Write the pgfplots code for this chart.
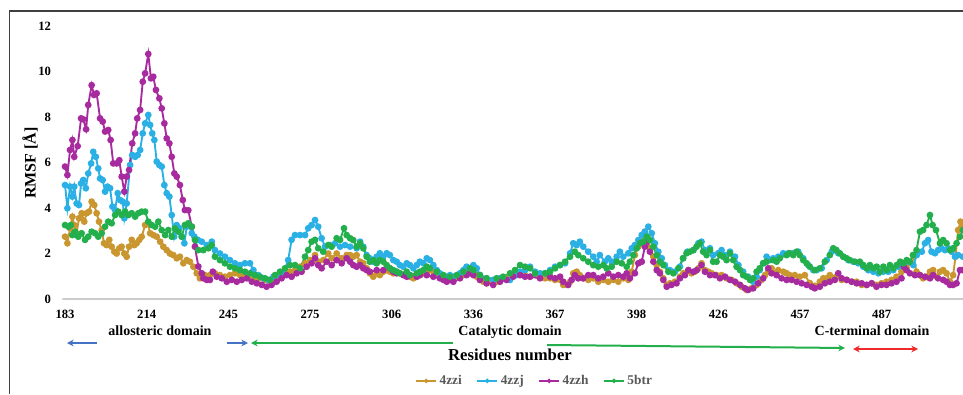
\documentclass[border=0pt]{standalone}
\usepackage{fontspec}
\setmainfont{Liberation Serif}
\usepackage{pgfplots}
\pgfplotsset{compat=1.18}
\usetikzlibrary{arrows.meta}
\definecolor{cGold}{HTML}{C9962F}
\definecolor{cCyan}{HTML}{2BB0E6}
\definecolor{cMag}{HTML}{A82A9F}
\definecolor{cGreen}{HTML}{23B04C}
\definecolor{cBlue}{HTML}{4472C4}
\definecolor{cRed}{HTML}{EE2A2A}
\definecolor{cLeg}{HTML}{595959}
\begin{document}
\begin{tikzpicture}
\useasboundingbox (-46.8pt,-71.25pt) rectangle (675.45pt,224.25pt);
\fill[white] (-46.8pt,-71.25pt) rectangle (675.45pt,224.25pt);
\begin{axis}[
  at={(0pt,0pt)}, anchor=south west,
  scale only axis, width=675.75pt, height=204.75pt,
  xmin=-1, xmax=341, ymin=0, ymax=12,
  axis line style={draw=none},
  major tick length=0pt,
  xtick={0,31,62,93,124,155,186,217,248,279,310},
  xticklabels={183,214,245,275,306,336,367,398,426,457,487},
  ytick={0,2,...,12},
  tick label style={font=\fontsize{9.5}{11}\selectfont\bfseries},
  yticklabel style={xshift=-5pt},
  xticklabel style={yshift=-4.5pt},
  /pgf/number format/assume math mode=true,
  legend columns=4,
  legend style={draw=none, fill=none, at={(axis description cs:0.5245,-0.300)}, anchor=center,
    font=\fontsize{10}{12}\selectfont\bfseries, text=cLeg,
    /tikz/every even column/.append style={column sep=9pt}},
  legend image code/.code={\draw[#1, line width=1.2pt, mark size=1pt, mark repeat=2, mark phase=2] plot coordinates {(0pt,0pt) (7.5pt,0pt) (15pt,0pt)};},
  every axis plot/.append style={line width=1.4pt, mark=*, mark size=1.8pt},
]
\draw[black!20, line width=0.8pt] (axis cs:-1,0) -- (axis cs:341,0);
\addplot[cGold, mark options={cGold}] coordinates {
(0,2.74)(0.9,2.45)(1.9,3.11)(2.8,3.62)(3.5,3.25)(4.4,2.89)(5.3,3.55)(6.3,3.77)(7.3,3.4)(8.2,3.77)(9.1,3.84)(10.1,4.28)(11.1,4.13)(12,3.77)(12.9,3.4)(13.9,3.03)(14.8,2.45)(15.8,2.37)(16.8,2.6)(17.7,2.3)(18.7,2.08)(19.6,2.0)(20.6,2.23)(21.5,2.3)(22.5,2.0)(23.4,1.86)(24.3,2.3)(25.3,2.6)(26.3,2.37)(27.2,2.45)(28.2,2.6)(29.1,2.74)(30.4,3.25)(31.4,3.33)(32.3,2.89)(33.5,2.81)(34.8,2.74)(36.1,2.52)(37.3,2.3)(38.6,2.15)(39.8,2.0)(41.1,1.93)(42.4,1.79)(43.6,1.86)(44.9,1.57)(46.2,1.71)(47.4,1.64)(48.7,1.42)(50,1.13)(51.2,0.91)(53.1,1.05)(55,1.05)(56.9,1.13)(58.8,1.05)(60.7,0.98)(62.6,1.05)(64.5,1.13)(66.4,1.05)(68.3,0.98)(70.2,0.91)(72.1,0.84)(74,0.91)(75.9,0.84)(77.8,0.76)(79.7,0.91)(81.6,1.05)(83.5,1.13)(85.4,1.2)(87.3,1.27)(89.2,1.42)(91.1,1.57)(93,1.71)(94.9,1.93)(96.1,1.64)(98,1.71)(99.9,2.0)(101.2,1.79)(103.1,2.0)(105,1.79)(106.9,1.93)(108.2,1.93)(109.4,1.86)(110.7,1.93)(112,1.64)(113.2,1.57)(114.5,1.35)(115.7,1.13)(117,0.98)(118.3,1.13)(119.5,1.05)(120.8,1.2)(122.1,1.27)(123.3,1.2)(124.6,1.13)(125.9,1.2)(127.1,1.13)(129.7,1.05)(130.9,0.98)(132.2,0.91)(133.5,0.98)(134.7,1.05)(136,1.13)(137.3,1.2)(138.5,1.27)(139.8,1.2)(141.1,1.13)(142.3,1.05)(144.9,0.91)(147.4,0.91)(148.7,0.98)(151.2,1.05)(152.4,1.13)(153.7,1.2)(155,1.13)(156.3,0.98)(157.5,0.84)(158.8,0.76)(160,0.69)(161.3,0.76)(162.5,0.69)(163.8,0.76)(165.1,0.84)(167.6,0.91)(170.1,1.05)(172.7,1.13)(174.6,1.05)(176.5,0.98)(180.3,0.98)(182.2,0.91)(184.1,0.91)(186,0.84)(187.9,0.84)(189.1,0.62)(190.4,0.62)(191.7,0.76)(192.9,1.13)(194.2,1.2)(195.4,1.05)(196.7,0.91)(198.6,0.84)(200.5,0.91)(202.4,0.76)(204.3,0.84)(206.2,0.76)(208.1,0.84)(210,0.76)(211.9,0.91)(213.8,0.84)(215.1,1.2)(216.3,1.93)(217.6,2.3)(218.9,2.52)(220.1,2.96)(221,2.74)(222,2.23)(223.3,1.86)(224.6,1.49)(225.8,1.2)(227.1,0.91)(228.4,0.62)(229.6,0.69)(231.5,0.76)(233.4,0.98)(234.7,1.13)(236.6,1.27)(237.8,1.13)(239.1,1.2)(240.4,1.35)(241.6,1.57)(242.9,1.27)(244.2,1.2)(245.4,1.13)(247.3,1.05)(249.2,1.05)(251.1,0.91)(253,0.84)(254.9,0.69)(256.8,0.54)(258.7,0.4)(260.6,0.47)(262.5,0.62)(264.4,0.84)(265.7,1.05)(266.9,1.2)(268.2,1.35)(269.5,1.13)(270.7,1.27)(272.6,1.2)(273.9,1.13)(275.1,1.05)(277,1.05)(278.9,0.98)(280.8,1.05)(282.7,0.7)(284.6,0.58)(286.5,0.76)(287.8,0.91)(289.1,0.91)(290.3,1.05)(291.6,0.91)(292.8,0.98)(294.8,0.84)(296.7,0.84)(298.6,0.76)(300.5,0.76)(302.4,0.62)(304.3,0.62)(306.2,0.69)(308,0.62)(309.9,0.69)(311.8,0.76)(313.7,0.84)(315.6,0.98)(317.5,1.2)(319.4,1.35)(320.7,1.57)(321.9,1.93)(323.2,1.2)(324.5,1.05)(325.7,0.91)(327,0.98)(328.3,1.2)(329.5,1.27)(330.8,0.98)(332.1,1.2)(333.3,1.27)(334.6,1.13)(335.9,0.76)(337.1,1.05)(338,1.86)(339,3.03)(339.9,3.4)(340.8,3.18)
};
\addlegendentry{4zzi}
\addplot[cCyan, mark options={cCyan}] coordinates {
(0,5.01)(0.9,3.99)(1.9,4.94)(2.8,4.5)(3.5,4.94)(4.4,4.2)(5.3,4.13)(6.1,5.08)(6.9,5.23)(7.9,4.87)(8.8,5.52)(9.9,5.96)(10.7,6.47)(11.7,6.25)(12.6,5.74)(13.3,5.3)(14.3,5.23)(15.2,4.72)(16.1,4.94)(17.1,4.87)(18,4.06)(19,3.91)(20,4.65)(20.9,4.35)(21.9,4.28)(22.5,3.55)(23.4,4.2)(24.7,5.89)(25.5,6.33)(26.6,6.25)(27.6,6.33)(28.5,6.55)(29.5,7.28)(30.4,7.72)(31.6,8.09)(32.3,7.65)(33.1,7.28)(33.9,6.99)(34.8,6.04)(35.8,5.89)(36.7,5.82)(37.7,5.01)(38.6,4.65)(39.6,4.5)(40.5,3.69)(41.4,2.74)(42.4,3.25)(43.4,3.11)(44.3,2.74)(45.3,2.45)(46.2,3.18)(47.1,3.25)(48.1,2.89)(49.1,2.74)(50.4,2.6)(51.9,2.52)(53.8,2.37)(55.7,2.52)(56.9,2.15)(58.8,2.0)(60.7,1.86)(62.6,1.71)(64.5,1.57)(66.4,1.49)(68.3,1.57)(70.2,1.57)(71.5,1.27)(73.4,1.05)(75.3,0.91)(77.2,0.84)(79.1,0.98)(80.9,1.05)(82.8,1.13)(84.7,1.71)(86,2.6)(87.3,2.81)(89.2,2.81)(91.1,2.81)(92.3,3.11)(93.6,3.25)(94.9,3.47)(96.1,3.18)(97.4,2.67)(98.7,2.3)(100.6,2.37)(102.5,2.45)(104.4,2.3)(106.3,2.37)(108.2,2.3)(110.7,2.23)(112,2.52)(113.2,2.3)(114.5,1.93)(115.7,1.79)(117,1.64)(118.3,1.86)(119.5,2.01)(120.8,1.86)(122.1,2.01)(123.3,1.93)(124.6,1.71)(125.9,1.64)(127.1,1.49)(128.4,1.42)(129.7,1.57)(130.9,1.49)(132.2,1.35)(133.5,1.49)(134.7,1.64)(136,1.57)(137.3,1.79)(138.5,1.71)(139.8,1.49)(141.1,1.27)(142.3,1.13)(144.9,0.98)(146.1,1.05)(147.4,0.98)(149.9,1.13)(151.2,1.27)(152.4,1.42)(155,1.49)(156.3,1.35)(157.5,1.05)(160,0.91)(162.5,0.84)(165.1,0.91)(168.9,0.84)(171.4,1.05)(172.7,1.2)(174.6,1.27)(176.5,1.42)(178.4,1.2)(180.3,1.13)(182.2,1.13)(184.1,1.27)(186,1.42)(187.9,1.49)(189.8,1.57)(191.7,2.01)(192.9,2.45)(194.2,2.37)(195.4,2.52)(196.7,2.3)(198.6,2.08)(200.5,1.86)(201.8,1.64)(203,1.93)(204.9,1.64)(206.2,1.79)(207.5,1.64)(209.4,1.86)(210.6,2.08)(211.9,1.86)(213.8,2.01)(215.1,2.23)(216.3,2.37)(217.6,2.59)(218.9,2.81)(220.1,2.96)(221.4,3.18)(222.7,2.89)(223.9,2.45)(225.2,2.08)(226.5,1.79)(227.7,1.49)(229.6,1.27)(231.5,1.2)(233.4,1.42)(234.6,1.79)(236.2,2.08)(238.5,2.15)(240.4,2.45)(241.6,2.52)(242.9,2.15)(244.8,2.23)(246,1.93)(247.9,2.01)(249.2,2.15)(250.5,1.93)(252.4,2.08)(254.3,1.86)(255.6,1.49)(257.4,1.2)(259.3,0.98)(261.2,0.76)(262.5,0.98)(263.7,1.27)(265,1.57)(266.3,1.86)(267.6,1.71)(268.8,1.79)(270.7,1.86)(272.6,2.01)(274.5,2.01)(276.4,2.01)(278.3,2.08)(280.2,1.79)(282.1,1.49)(284,1.27)(285.3,1.27)(287.2,1.35)(289.1,1.71)(291,2.08)(292.2,2.15)(293.5,2.01)(295.4,1.86)(297.3,1.71)(299.2,1.64)(301.1,1.57)(303,1.42)(304.9,1.27)(306.8,1.2)(308.7,1.13)(310.6,1.2)(312.5,1.2)(314.4,1.27)(316.3,1.42)(318.2,1.49)(320.1,1.64)(322,1.49)(323.3,1.93)(325.2,2.08)(326.4,2.45)(327.6,2.59)(328.9,2.08)(330.2,2.01)(331.4,2.15)(332.7,2.23)(334,2.15)(335.2,2.23)(336.5,2.08)(337.8,1.86)(339,1.93)(340.8,1.86)
};
\addlegendentry{4zzj}
\addplot[cMag, mark options={cMag}] coordinates {
(0,5.82)(0.9,5.45)(1.9,6.55)(2.8,6.99)(3.5,6.25)(4.8,6.72)(6.1,7.94)(6.9,7.9)(8,7.46)(8.8,8.53)(10.1,9.4)(11,8.97)(12,9.04)(13.3,7.94)(14.3,7.8)(15.2,7.36)(16.4,7.43)(17.3,6.99)(18.3,5.96)(19.6,5.96)(20.6,6.1)(21.5,5.38)(22.5,4.72)(23.4,5.38)(24.3,5.67)(25.5,6.84)(26.6,7.28)(27.4,7.94)(28.5,8.31)(29.5,9.55)(30.4,9.92)(31.6,10.77)(32.6,9.7)(33.5,9.77)(34.5,9.19)(35.8,8.82)(36.7,8.38)(37.7,7.72)(38.6,7.06)(39.6,6.84)(40.5,6.25)(41.5,5.52)(42.4,5.38)(43.6,5.01)(44.7,4.35)(45.5,3.91)(46.8,3.9)(48.1,3.18)(49.3,2.3)(50.6,1.43)(51.9,1.13)(52.5,0.91)(53.8,0.84)(55,0.84)(56.1,1.2)(57.6,0.98)(59.5,0.91)(61.4,0.76)(63.3,0.84)(65.2,0.76)(67.1,0.84)(69,0.91)(70.9,0.76)(72.8,0.69)(74.7,0.62)(76.5,0.54)(78.4,0.62)(80.3,0.76)(82.2,0.91)(84.1,1.05)(86,0.98)(87.9,1.13)(89.8,1.2)(91.7,1.42)(93.6,1.57)(94.9,1.79)(96.1,1.49)(97.4,1.35)(99.3,1.64)(101.2,1.49)(103.1,1.71)(105,1.57)(106.9,1.79)(108.2,1.64)(109.4,1.49)(110.7,1.42)(112,1.49)(113.2,1.35)(114.5,1.27)(115.7,1.2)(118.3,1.27)(120.8,1.27)(123.3,1.35)(124.6,1.2)(125.9,1.13)(128.4,1.05)(129.7,0.98)(130.9,1.05)(133.5,0.98)(134.7,1.05)(137.3,1.05)(139.8,0.98)(142.3,0.91)(143.6,0.84)(144.9,0.76)(146.1,0.84)(147.4,0.76)(149.9,0.91)(152.4,1.05)(153.7,1.13)(155,1.05)(157.5,0.84)(160,0.69)(162.5,0.62)(165.1,0.76)(167.6,0.84)(170.1,0.98)(172.7,1.05)(174.6,0.98)(176.5,0.98)(180.3,0.91)(184.1,0.98)(186,0.91)(187.9,0.98)(189.1,0.76)(191,0.62)(192.3,0.84)(193.5,1.05)(194.8,0.91)(196.7,0.91)(198.6,1.05)(200.5,1.05)(202.4,0.91)(204.3,0.98)(206.2,1.13)(208.1,0.98)(210,1.05)(211.9,0.98)(213.2,1.13)(214.4,0.91)(216.3,1.13)(217.6,1.57)(218.9,1.64)(220.1,2.3)(221,2.59)(222,2.08)(223.3,1.64)(224.6,1.27)(225.8,1.13)(227.1,0.84)(228.4,0.54)(230.2,0.62)(232.1,0.69)(233.4,0.91)(235.3,1.05)(236.6,1.27)(238.5,1.2)(239.8,1.27)(241.6,1.49)(242.9,1.2)(244.8,1.05)(246.7,1.05)(248.6,0.91)(250.5,0.98)(252.4,0.84)(254.3,0.76)(256.2,0.62)(258.1,0.47)(259.3,0.4)(261.2,0.47)(263.1,0.69)(265,0.91)(266.9,1.35)(268.2,1.13)(270.1,1.05)(272,0.91)(273.9,0.84)(275.8,0.84)(277.7,0.76)(279.6,0.69)(281.5,0.62)(283.4,0.54)(284.6,0.47)(286.5,0.54)(288.4,0.69)(290.3,0.76)(292.2,0.84)(293.5,1.13)(294.8,0.91)(296.7,0.84)(298.6,0.76)(300.5,0.69)(302.4,0.69)(304.3,0.62)(306.2,0.69)(308,0.54)(309.9,0.62)(311.8,0.62)(313.7,0.69)(315.6,0.76)(317.5,0.91)(318.4,1.42)(319.4,1.27)(320.7,1.13)(322.6,1.05)(324.5,1.05)(326.4,0.98)(328.3,0.91)(329.5,1.05)(331.4,0.91)(333.3,0.84)(334.6,0.76)(335.9,0.62)(337.1,0.62)(338.4,0.69)(339.7,1.27)(340.8,1.27)
};
\addlegendentry{4zzh}
\addplot[cGreen, mark options={cGreen}] coordinates {
(0,3.25)(1.3,3.18)(2.2,3.25)(2.8,2.81)(3.8,2.96)(5,2.74)(6.3,2.89)(7.6,2.6)(8.8,2.74)(10.1,2.96)(11.4,2.89)(12.6,2.74)(13.9,2.89)(15.2,3.18)(16.4,3.4)(17.7,3.33)(19,3.69)(20.2,3.84)(21.5,3.69)(22.8,3.84)(24,3.69)(25.3,3.77)(26.6,3.62)(27.8,3.77)(29.1,3.84)(30.4,3.84)(31.6,3.4)(32.9,3.25)(34.2,3.18)(35.4,3.4)(36.7,3.03)(38,2.81)(39.2,3.03)(40.5,2.74)(41.7,3.11)(43,2.96)(44.3,2.74)(45.5,3.25)(46.8,3.33)(48.1,3.18)(49.3,2.6)(50.6,2.15)(52.5,2.15)(54.4,2.23)(55.7,2.37)(56.9,1.86)(58.8,1.71)(60.7,1.57)(62.6,1.42)(64.5,1.35)(66.4,1.27)(68.3,1.2)(70.2,1.13)(72.1,1.05)(74,0.98)(75.9,0.91)(77.8,0.84)(79.7,1.05)(81.6,1.2)(83.5,1.35)(85.4,1.49)(87.3,1.49)(89.2,1.35)(91.1,1.86)(92.3,2.15)(93.6,2.52)(94.9,2.6)(96.1,2.23)(98,2.08)(99.9,2.37)(101.2,2.3)(103.1,2.67)(104.4,2.6)(105.9,3.11)(106.9,2.81)(108.2,2.67)(109.4,2.59)(110.7,2.3)(112,2.45)(113.2,2.23)(114.5,1.86)(115.7,1.64)(117,1.71)(118.3,1.57)(119.5,1.71)(120.8,1.64)(122.1,1.49)(123.3,1.35)(124.6,1.27)(125.9,1.2)(127.1,1.13)(129.7,1.2)(130.9,1.05)(133.5,1.13)(134.7,1.2)(136,1.27)(137.3,1.42)(138.5,1.35)(141.1,1.2)(143.6,1.05)(146.1,0.98)(148.7,1.05)(151.2,1.2)(153.7,1.35)(155,1.27)(157.5,1.05)(160,0.91)(163.8,0.91)(166.3,0.98)(168.9,1.13)(170.8,1.27)(172.7,1.49)(174.6,1.42)(176.5,1.35)(178.4,1.13)(182.2,1.13)(184.1,1.2)(186,1.35)(187.9,1.49)(189.8,1.64)(191.7,1.86)(193.5,2.08)(194.8,1.93)(196.7,1.79)(198.6,1.64)(200.5,1.49)(202.4,1.42)(204.3,1.49)(205.6,1.35)(207.5,1.42)(209.4,1.64)(211.3,1.57)(213.2,1.42)(214.4,1.64)(215.7,1.93)(217,2.23)(218.2,2.45)(219.5,2.52)(220.8,2.74)(222,2.59)(223.3,2.3)(224.6,1.93)(225.8,1.64)(227.1,1.49)(229,1.2)(230.9,1.13)(232.8,1.35)(234.6,1.79)(235.9,2.01)(237.2,2.08)(238.5,2.15)(239.7,2.3)(241,2.45)(242.2,2.08)(243.5,1.93)(244.8,2.15)(246,1.64)(247.3,1.64)(248.6,1.93)(249.8,1.86)(251.1,1.71)(252.4,2.01)(253.6,1.71)(254.9,1.42)(256.2,1.27)(257.4,1.05)(258.7,0.98)(260,0.84)(261.2,0.91)(262.5,1.2)(263.7,1.35)(265,1.57)(266.3,1.64)(268.8,1.71)(270.1,1.64)(271.3,1.79)(273.9,1.93)(275.1,2.01)(276.4,1.93)(277.7,2.08)(278.9,1.93)(280.2,1.71)(281.5,1.57)(282.7,1.42)(284.6,1.27)(286.5,1.35)(288.4,1.64)(290.3,1.93)(291.6,2.23)(292.8,2.15)(294.1,2.01)(295.4,1.86)(296.7,1.79)(297.9,1.71)(299.8,1.64)(301.7,1.64)(303,1.49)(304.3,1.35)(305.5,1.49)(306.8,1.35)(308.1,1.42)(309.3,1.2)(310.6,1.42)(311.9,1.27)(313.1,1.49)(314.4,1.35)(315.7,1.49)(317,1.64)(318.2,1.57)(319.5,1.71)(320.7,1.64)(321.9,1.93)(323.2,2.15)(324.5,2.96)(325.7,3.03)(327,3.25)(328.3,3.69)(329.3,3.25)(330.6,3.03)(332.1,2.45)(333.3,2.59)(334.6,2.45)(335.9,2.15)(337.1,2.23)(338.4,2.45)(339.7,2.74)(340.8,3.03)
};
\addlegendentry{5btr}
\end{axis}
\begin{scope}[x=0.75pt, y=0.75pt, shift={(-46.8pt,-71.25pt)}]
\draw[black!75, line width=0.9pt] (9.5,0) -- (9.5,383) -- (963,383);
\node[rotate=90, font=\fontsize{12}{14}\selectfont\bfseries] at (30,231) {RMSF [Å]};
\node[font=\fontsize{10.5}{12}\selectfont\bfseries] at (160,63) {allosteric domain};
\node[font=\fontsize{10.5}{12}\selectfont\bfseries] at (510,62) {Catalytic domain};
\node[font=\fontsize{10.5}{12}\selectfont\bfseries] at (872,63) {C-terminal domain};
\node[font=\fontsize{12.5}{14}\selectfont\bfseries] at (510,39) {Residues number};
\draw[cBlue, line width=1.5pt, -{Stealth[length=5pt,width=5pt]}] (97,51) -- (67,51);
\draw[cBlue, line width=1.5pt, -{Stealth[length=5pt,width=5pt]}] (227,51) -- (248,51);
\draw[cGreen, line width=1.5pt, -{Stealth[length=5pt,width=5pt]}] (453,51) -- (251,51);
\draw[cGreen, line width=1.5pt, -{Stealth[length=5pt,width=5pt]}] (547,49) -- (845,46);
\draw[cRed, line width=1.5pt, {Stealth[length=5pt,width=5pt]}-{Stealth[length=5pt,width=5pt]}] (853,45) -- (918,45);
\end{scope}
\end{tikzpicture}
\end{document}
